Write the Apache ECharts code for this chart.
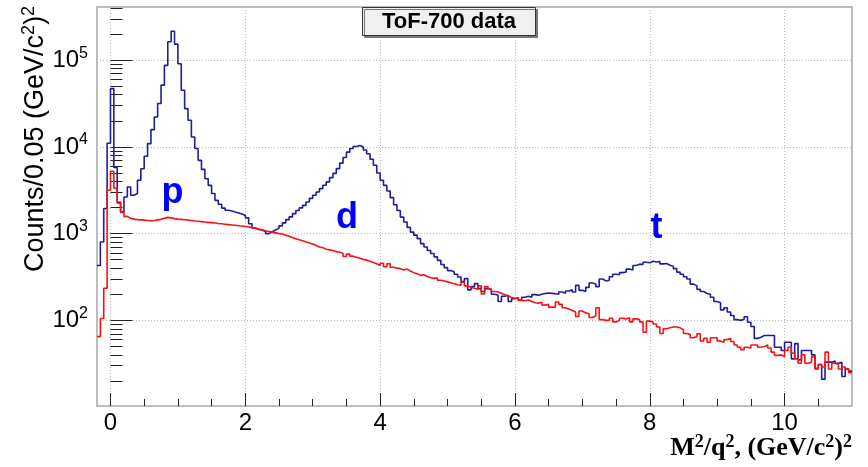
<!DOCTYPE html>
<html>
<head>
<meta charset="utf-8">
<title>ToF-700 data</title>
<script src="https://cdn.jsdelivr.net/npm/echarts@6.0.0/dist/echarts.min.js"></script>
<style>
  html, body { margin: 0; padding: 0; background: #fff; }
  #chart { width: 868px; height: 467px; }
</style>
</head>
<body>
<div id="chart"></div>
<script>
// histogram binning of M^2/q^2, (GeV/c^2)^2
const binLow = -0.2;
const binWidth = 0.05;

// counts per bin, blue histogram (p, d, t peaks)
const blueCounts = [
  430, 800, 1950, 11000, 47000, 5800, 2300, 1780, 2640, 3450, 2770,
  2900, 4120, 5600, 7800, 10900, 15800, 22100, 31600, 51500, 87000,
  163000, 215000, 153000, 91000, 45000, 27600, 20300, 13000, 9600, 7000,
  5500, 4300, 3600, 2900, 2420, 2180, 1970, 1860, 1820, 1780,
  1730, 1680, 1620, 1520, 1300, 1160, 1120, 1100, 1060, 1000,
  1050, 1100, 1150, 1230, 1330, 1450, 1560, 1700, 1850, 1980,
  2120, 2320, 2550, 2770, 3020, 3300, 3610, 3950, 4420, 4950,
  5620, 6500, 7550, 8700, 9570, 10100, 10400, 10000, 9200, 8350,
  7200, 6150, 5000, 4120, 3600, 3100, 2600, 2150, 1850, 1550,
  1360, 1180, 1040, 960, 875, 767, 700, 640, 590, 540,
  492, 440, 406, 375, 361, 340, 316, 280, 303, 225,
  245, 265, 232, 215, 232, 228, 200, 195, 165, 190,
  195, 165, 178, 182, 172, 185, 190, 185, 198, 195,
  200, 204, 207, 205, 203, 200, 212, 205, 218, 226,
  212, 253, 222, 215, 240, 270, 262, 245, 300, 285,
  290, 318, 340, 335, 355, 362, 390, 380, 430, 445,
  440, 468, 462, 480, 470, 478, 448, 452, 432, 420,
  395, 360, 340, 318, 300, 262, 250, 228, 215, 204,
  200, 185, 165, 160, 132, 140, 125, 114, 102, 100,
  103, 110, 95, 85, 62, 64, 67, 67, 67, 67,
  49, 49, 45, 56, 56, 36, 54, 35, 45, 45,
  45, 40, 28, 31, 21, 33, 33, 34, 32, 33,
  22.5, 27.5, 26
];

// counts per bin, red histogram
const redCounts = [
  65, 105, 235, 3160, 5240, 3330, 2250, 1750, 1580, 1500, 1470,
  1450, 1440, 1430, 1420, 1410, 1420, 1440, 1460, 1500, 1540,
  1520, 1490, 1470, 1460, 1445, 1430, 1420, 1400, 1390, 1375,
  1360, 1350, 1340, 1325, 1310, 1300, 1285, 1270, 1260, 1250,
  1235, 1225, 1210, 1195, 1180, 1150, 1120, 1110, 1080, 1060,
  1040, 1020, 1000, 990, 960, 930, 900, 875, 850, 830,
  800, 780, 760, 730, 700, 690, 660, 650, 640, 620,
  610, 590, 545, 580, 550, 535, 520, 505, 495, 480,
  465, 450, 430, 455, 415, 450, 410, 400, 395, 380,
  390, 370, 355, 345, 330, 335, 320, 310, 305, 310,
  290, 285, 278, 272, 265, 258, 255, 275, 250, 240,
  235, 228, 250, 202, 245, 230, 215, 212, 205, 198,
  192, 183, 180, 180, 170, 168, 172, 165, 160, 158,
  162, 150, 153, 142, 142, 163, 153, 140, 135, 130,
  125, 111, 128, 122, 119, 108, 113, 140, 102, 100,
  100, 106, 96, 100, 106, 104, 107, 96, 104, 102,
  96, 73, 98, 96, 91, 84, 70.5, 80, 82, 84,
  84, 82, 78, 70.5, 69, 63, 65, 70, 58, 62,
  56, 63, 63, 58, 56, 60, 62, 57, 52, 49,
  46, 49, 48, 52, 52, 49, 50, 52, 48, 43,
  39.5, 40, 38, 45, 49, 42, 36, 32, 40, 32,
  33, 38, 27.5, 31, 29, 43, 27.5, 32, 31, 27.5,
  29, 27.5, 25
];

// axis ticks
const xMajorTicks = [0, 2, 4, 6, 8, 10];
const xMinorTicks = [0.5, 1, 1.5, 2.5, 3, 3.5, 4.5, 5, 5.5, 6.5, 7, 7.5, 8.5, 9, 9.5, 10.5];
const yMajorTicks = [100, 1000, 10000, 100000];
const yMinorTicks = [
  20, 30, 40, 50, 60, 70, 80, 90,
  200, 300, 400, 500, 600, 700, 800, 900,
  2000, 3000, 4000, 5000, 6000, 7000, 8000, 9000,
  20000, 30000, 40000, 50000, 60000, 70000, 80000, 90000,
  200000, 300000, 400000
];

const xMin = -0.2, xMax = 11;
const yMin = 10.3, yMax = 410000;

const sans = 'Liberation Sans, Helvetica, Arial, sans-serif';
const serif = 'Liberation Serif, Times New Roman, serif';

// histogram -> step line points (left bin edges + closing edge)
function toSteps(counts) {
  let pts = counts.map(function (c, i) {
    return [+(binLow + i * binWidth).toFixed(2), c];
  });
  pts.push([+(binLow + counts.length * binWidth).toFixed(2), counts[counts.length - 1]]);
  return pts;
}

let myChart = echarts.init(document.getElementById('chart'), null, { renderer: 'canvas' });

let gridBox = { left: 97, right: 16, top: 7, bottom: 61 };

let option = {
  animation: false,
  backgroundColor: '#fff',
  title: {
    text: 'ToF-700 data',
    left: 362,
    top: 7,
    padding: [4, 20, 3, 20],
    backgroundColor: '#f0f0f0',
    borderColor: '#333',
    borderWidth: 1,
    shadowColor: '#777',
    shadowOffsetX: 2,
    shadowOffsetY: 2,
    textStyle: { fontFamily: sans, fontSize: 22, fontWeight: 'bold', color: '#000', lineHeight: 22 }
  },
  grid: [
    Object.assign({ show: true, borderColor: '#a8a8a8', borderWidth: 1.5, backgroundColor: 'transparent' }, gridBox),
    Object.assign({ show: false }, gridBox)
  ],
  xAxis: [
    {
      type: 'value', gridIndex: 0, min: xMin, max: xMax,
      axisLine: { show: false },
      axisTick: { inside: true, length: 13, customValues: xMajorTicks, lineStyle: { color: '#222' } },
      axisLabel: { customValues: xMajorTicks, fontFamily: sans, fontSize: 24, color: '#000', margin: 5 },
      splitLine: { show: true, lineStyle: { color: '#b8b8b8', type: [1, 2], width: 1 } }
    },
    {
      type: 'value', gridIndex: 1, min: xMin, max: xMax,
      axisLine: { show: false },
      axisTick: { inside: true, length: 7, customValues: xMinorTicks, lineStyle: { color: '#222' } },
      axisLabel: { show: false },
      splitLine: { show: false }
    }
  ],
  yAxis: [
    {
      type: 'log', gridIndex: 0, min: yMin, max: yMax, logBase: 10,
      axisLine: { show: false },
      axisTick: { inside: true, length: 22, customValues: yMajorTicks, lineStyle: { color: '#222' } },
      axisLabel: {
        customValues: yMajorTicks,
        margin: 9,
        formatter: function (v) {
          return '{b|10}{e|' + Math.round(Math.log10(v)) + '}';
        },
        rich: {
          b: { fontFamily: sans, fontSize: 24, color: '#000', lineHeight: 30 },
          e: { fontFamily: sans, fontSize: 16, color: '#000', lineHeight: 18, verticalAlign: 'top' }
        }
      },
      splitLine: { show: true, lineStyle: { color: '#b8b8b8', type: [1, 2], width: 1 } }
    },
    {
      type: 'log', gridIndex: 1, min: yMin, max: yMax, logBase: 10,
      axisLine: { show: false },
      axisTick: { inside: true, length: 12, customValues: yMinorTicks, lineStyle: { color: '#222' } },
      axisLabel: { show: false },
      splitLine: { show: false }
    }
  ],
  graphic: [
    {
      type: 'text', rotation: Math.PI / 2, x: 36, y: 272,
      style: {
        text: '{m|Counts/0.05 (GeV/c}{s|2}{m|)}{s|2}',
        textAlign: 'left', textVerticalAlign: 'middle',
        rich: {
          m: { fontFamily: sans, fontSize: 27, fill: '#000', lineHeight: 32 },
          s: { fontFamily: sans, fontSize: 18, fill: '#000', lineHeight: 18, verticalAlign: 'top' }
        }
      }
    },
    {
      type: 'text', x: 852, y: 448,
      style: {
        text: '{m|M}{s|2}{m|/q}{s|2}{m|, (GeV/c}{s|2}{m|)}{s|2}',
        textAlign: 'right', textVerticalAlign: 'middle',
        rich: {
          m: { fontFamily: serif, fontWeight: 'bold', fontSize: 26, fill: '#000', lineHeight: 30 },
          s: { fontFamily: serif, fontWeight: 'bold', fontSize: 18, fill: '#000', lineHeight: 17, verticalAlign: 'top' }
        }
      }
    }
  ],
  series: [
    {
      name: 'ToF-700',
      type: 'line',
      xAxisIndex: 0, yAxisIndex: 0,
      step: 'end',
      showSymbol: false,
      data: toSteps(blueCounts),
      lineStyle: { color: '#1e1e9a', width: 1.6 },
      itemStyle: { color: '#1e1e9a' },
      z: 3,
      markPoint: {
        symbol: 'circle',
        symbolSize: 1,
        itemStyle: { color: 'rgba(0,0,0,0)' },
        label: { show: true, position: 'inside', formatter: '{b}', fontFamily: sans, fontSize: 36, fontWeight: 'bold', color: '#0000ff' },
        data: [
          { name: 'p', coord: [0.92, 2950] },
          { name: 'd', coord: [3.51, 1520] },
          { name: 't', coord: [8.10, 1167] }
        ]
      }
    },
    {
      name: 'red',
      type: 'line',
      xAxisIndex: 0, yAxisIndex: 0,
      step: 'end',
      showSymbol: false,
      data: toSteps(redCounts),
      lineStyle: { color: '#ff1010', width: 1.6 },
      itemStyle: { color: '#ff1010' },
      z: 4
    }
  ]
};

myChart.setOption(option);
</script>
</body>
</html>
